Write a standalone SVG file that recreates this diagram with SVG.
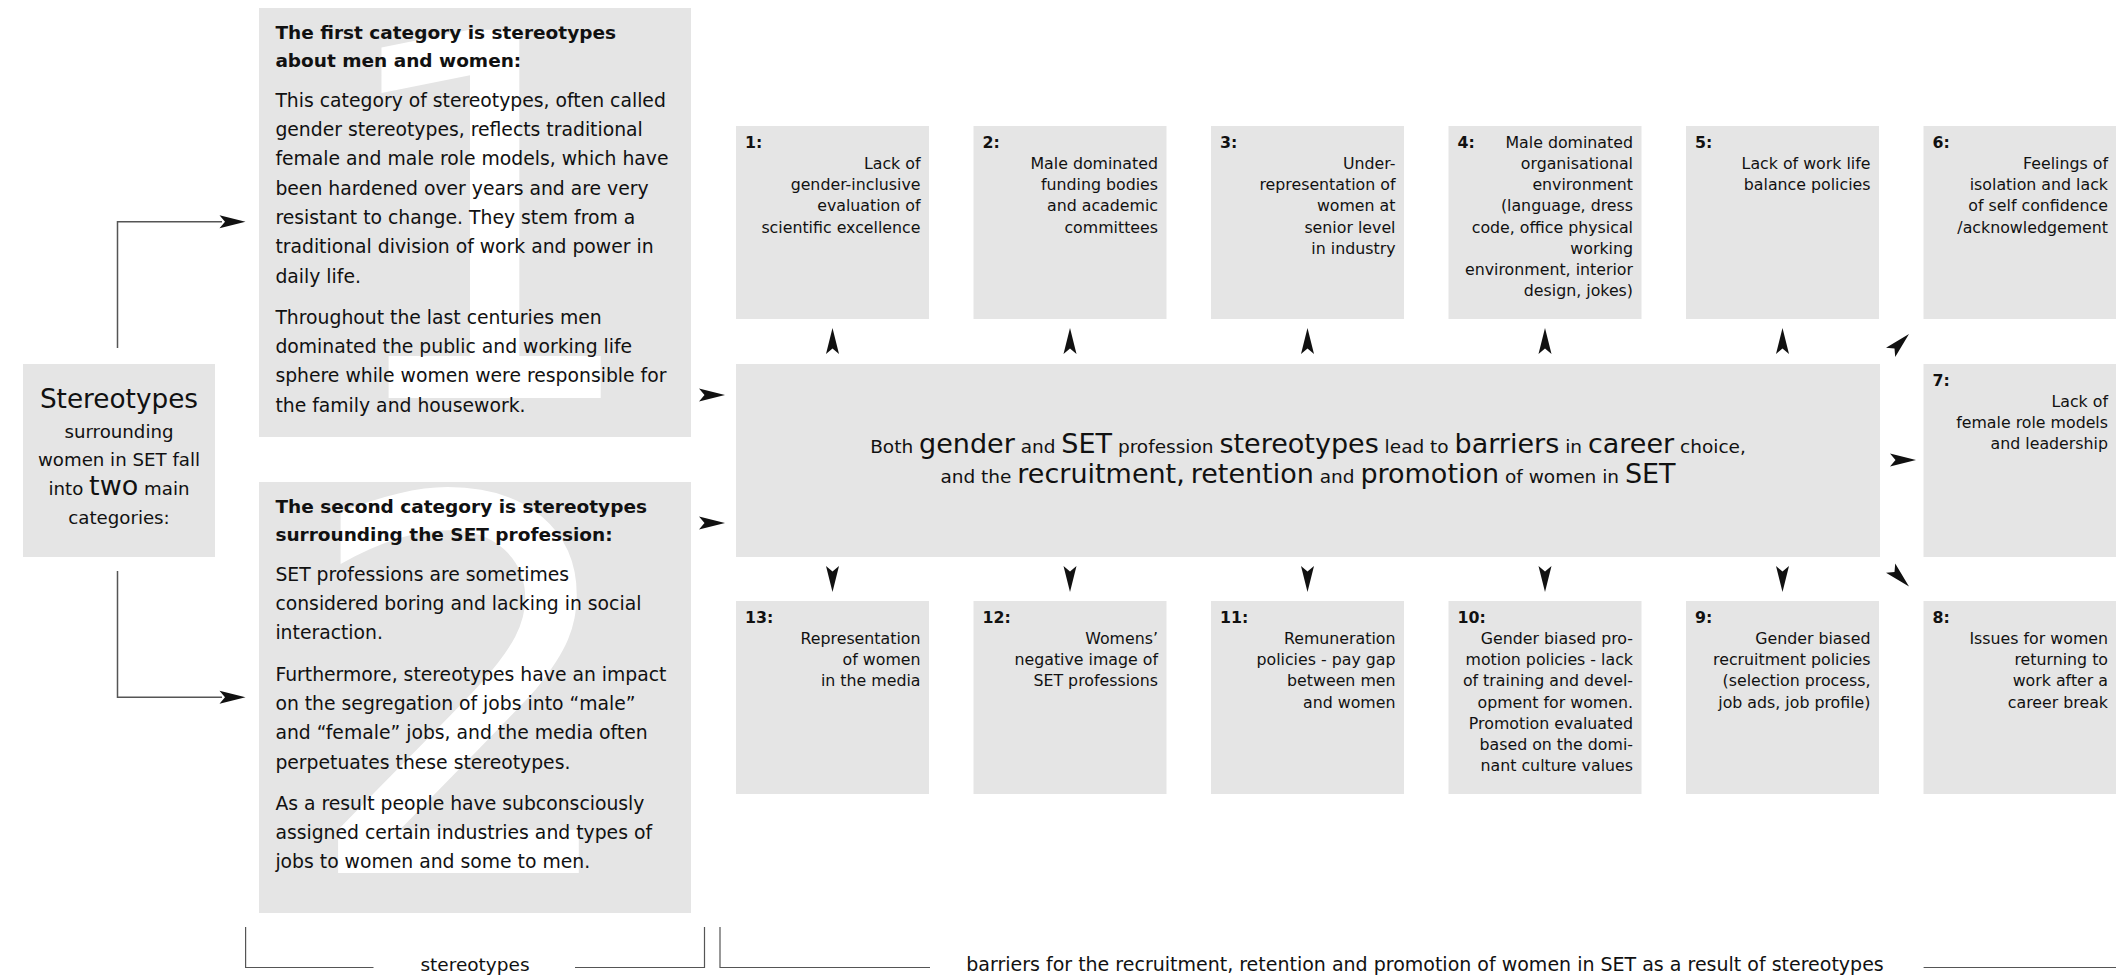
<svg xmlns="http://www.w3.org/2000/svg" xmlns:xlink="http://www.w3.org/1999/xlink" width="2116" height="978" viewBox="0 0 2116 978">
<style>
.box{fill:#e5e5e5}
.t{font-family:"DejaVu Sans",Verdana,sans-serif;fill:#111}
.sm{font-size:15.8px}
.lb{font-size:15.8px;font-weight:bold}
.r{text-anchor:end}
.m{text-anchor:middle}
.hd{font-size:18.5px;font-weight:bold}
.bd{font-size:18.8px}
.wm{font-family:"DejaVu Sans",Verdana,sans-serif;fill:#ffffff}
.cs{font-size:18.5px}
.cb{font-size:27px}
.ln{fill:none;stroke:#555;stroke-width:1.5}
.br{fill:none;stroke:#555;stroke-width:1.2}
.ah{fill:#111}
</style>
<defs>
<path id="ah" class="ah" d="M0,0 L-26,-6.5 L-20.5,0 L-26,6.5 Z"/>
</defs>
<rect width="2116" height="978" fill="#ffffff"/>

<g id="stereotypes">
<rect class="box" x="23" y="364" width="192" height="193"/>
<text class="t m" x="119" y="408" font-size="26.3">Stereotypes</text>
<text class="t m" x="119" y="437.5" font-size="18.2">surrounding</text>
<text class="t m" x="119" y="466" font-size="18.2">women in SET fall</text>
<text class="t m" x="119" y="495" font-size="18.2"><tspan>into </tspan><tspan font-size="27">two</tspan><tspan> main</tspan></text>
<text class="t m" x="119" y="524" font-size="18.2">categories:</text>
</g>

<g id="category1">
<rect class="box" x="259" y="8" width="432" height="429"/>
<text class="wm" x="326" y="398" font-size="505">1</text>
<text class="t hd" x="275.4" y="38.5">The first category is stereotypes</text>
<text class="t hd" x="275.4" y="67">about men and women:</text>
<text class="t bd" x="275.4" y="106.8">This category of stereotypes, often called</text>
<text class="t bd" x="275.4" y="136.1">gender stereotypes, reflects traditional</text>
<text class="t bd" x="275.4" y="165.4">female and male role models, which have</text>
<text class="t bd" x="275.4" y="194.7">been hardened over years and are very</text>
<text class="t bd" x="275.4" y="224">resistant to change. They stem from a</text>
<text class="t bd" x="275.4" y="253.3">traditional division of work and power in</text>
<text class="t bd" x="275.4" y="282.6">daily life.</text>
<text class="t bd" x="275.4" y="323.6">Throughout the last centuries men</text>
<text class="t bd" x="275.4" y="352.9">dominated the public and working life</text>
<text class="t bd" x="275.4" y="382.2">sphere while women were responsible for</text>
<text class="t bd" x="275.4" y="411.5">the family and housework.</text>
</g>

<g id="category2">
<rect class="box" x="259" y="482" width="432" height="431"/>
<text class="wm" x="300" y="873" font-size="520">2</text>
<text class="t hd" x="275.4" y="512.5">The second category is stereotypes</text>
<text class="t hd" x="275.4" y="541">surrounding the SET profession:</text>
<text class="t bd" x="275.4" y="580.8">SET professions are sometimes</text>
<text class="t bd" x="275.4" y="610.1">considered boring and lacking in social</text>
<text class="t bd" x="275.4" y="639.4">interaction.</text>
<text class="t bd" x="275.4" y="680.7">Furthermore, stereotypes have an impact</text>
<text class="t bd" x="275.4" y="710">on the segregation of jobs into “male”</text>
<text class="t bd" x="275.4" y="739.3">and “female” jobs, and the media often</text>
<text class="t bd" x="275.4" y="768.6">perpetuates these stereotypes.</text>
<text class="t bd" x="275.4" y="809.6">As a result people have subconsciously</text>
<text class="t bd" x="275.4" y="838.9">assigned certain industries and types of</text>
<text class="t bd" x="275.4" y="868.2">jobs to women and some to men.</text>
</g>

<g id="central">
<rect class="box" x="736" y="364" width="1144" height="193"/>
<text class="t m" x="1308" y="452.7"><tspan class="cs">Both </tspan><tspan class="cb">gender</tspan><tspan class="cs"> and </tspan><tspan class="cb">SET</tspan><tspan class="cs"> profession </tspan><tspan class="cb">stereotypes</tspan><tspan class="cs"> lead to </tspan><tspan class="cb">barriers</tspan><tspan class="cs"> in </tspan><tspan class="cb">career</tspan><tspan class="cs"> choice,</tspan></text>
<text class="t m" x="1308" y="483.3"><tspan class="cs">and the </tspan><tspan class="cb">recruitment,</tspan><tspan class="cs"> </tspan><tspan class="cb">retention</tspan><tspan class="cs"> and </tspan><tspan class="cb">promotion</tspan><tspan class="cs"> of women in </tspan><tspan class="cb">SET</tspan></text>
</g>

<g id="b1">
<rect class="box" x="736" y="126" width="193" height="193"/>
<text class="t lb" x="745" y="147.5">1:</text>
<text class="t sm r" x="920.5" y="168.8">Lack of</text>
<text class="t sm r" x="920.5" y="190">gender-inclusive</text>
<text class="t sm r" x="920.5" y="211.3">evaluation of</text>
<text class="t sm r" x="920.5" y="232.5">scientific excellence</text>
</g>
<g id="b2">
<rect class="box" x="973.5" y="126" width="193" height="193"/>
<text class="t lb" x="982.5" y="147.5">2:</text>
<text class="t sm r" x="1158" y="168.8">Male dominated</text>
<text class="t sm r" x="1158" y="190">funding bodies</text>
<text class="t sm r" x="1158" y="211.3">and academic</text>
<text class="t sm r" x="1158" y="232.5">committees</text>
</g>
<g id="b3">
<rect class="box" x="1211" y="126" width="193" height="193"/>
<text class="t lb" x="1220" y="147.5">3:</text>
<text class="t sm r" x="1395.5" y="168.8">Under-</text>
<text class="t sm r" x="1395.5" y="190">representation of</text>
<text class="t sm r" x="1395.5" y="211.3">women at</text>
<text class="t sm r" x="1395.5" y="232.5">senior level</text>
<text class="t sm r" x="1395.5" y="253.8">in industry</text>
</g>
<g id="b4">
<rect class="box" x="1448.5" y="126" width="193" height="193"/>
<text class="t lb" x="1457.5" y="147.5">4:</text>
<text class="t sm r" x="1633" y="147.5">Male dominated</text>
<text class="t sm r" x="1633" y="168.8">organisational</text>
<text class="t sm r" x="1633" y="190">environment</text>
<text class="t sm r" x="1633" y="211.3">(language, dress</text>
<text class="t sm r" x="1633" y="232.5">code, office physical</text>
<text class="t sm r" x="1633" y="253.8">working</text>
<text class="t sm r" x="1633" y="275">environment, interior</text>
<text class="t sm r" x="1633" y="296.3">design, jokes)</text>
</g>
<g id="b5">
<rect class="box" x="1686" y="126" width="193" height="193"/>
<text class="t lb" x="1695" y="147.5">5:</text>
<text class="t sm r" x="1870.5" y="168.8">Lack of work life</text>
<text class="t sm r" x="1870.5" y="190">balance policies</text>
</g>
<g id="b6">
<rect class="box" x="1923.5" y="126" width="193" height="193"/>
<text class="t lb" x="1932.5" y="147.5">6:</text>
<text class="t sm r" x="2108" y="168.8">Feelings of</text>
<text class="t sm r" x="2108" y="190">isolation and lack</text>
<text class="t sm r" x="2108" y="211.3">of self confidence</text>
<text class="t sm r" x="2108" y="232.5">/acknowledgement</text>
</g>
<g id="b7">
<rect class="box" x="1923.5" y="364" width="193" height="193"/>
<text class="t lb" x="1932.5" y="385.5">7:</text>
<text class="t sm r" x="2108" y="406.8">Lack of</text>
<text class="t sm r" x="2108" y="428">female role models</text>
<text class="t sm r" x="2108" y="449.3">and leadership</text>
</g>
<g id="b8">
<rect class="box" x="1923.5" y="601" width="193" height="193"/>
<text class="t lb" x="1932.5" y="622.5">8:</text>
<text class="t sm r" x="2108" y="643.8">Issues for women</text>
<text class="t sm r" x="2108" y="665">returning to</text>
<text class="t sm r" x="2108" y="686.3">work after a</text>
<text class="t sm r" x="2108" y="707.5">career break</text>
</g>
<g id="b9">
<rect class="box" x="1686" y="601" width="193" height="193"/>
<text class="t lb" x="1695" y="622.5">9:</text>
<text class="t sm r" x="1870.5" y="643.8">Gender biased</text>
<text class="t sm r" x="1870.5" y="665">recruitment policies</text>
<text class="t sm r" x="1870.5" y="686.3">(selection process,</text>
<text class="t sm r" x="1870.5" y="707.5">job ads, job profile)</text>
</g>
<g id="b10">
<rect class="box" x="1448.5" y="601" width="193" height="193"/>
<text class="t lb" x="1457.5" y="622.5">10:</text>
<text class="t sm r" x="1633" y="643.8">Gender biased pro-</text>
<text class="t sm r" x="1633" y="665">motion policies - lack</text>
<text class="t sm r" x="1633" y="686.3">of training and devel-</text>
<text class="t sm r" x="1633" y="707.5">opment for women.</text>
<text class="t sm r" x="1633" y="728.8">Promotion evaluated</text>
<text class="t sm r" x="1633" y="750">based on the domi-</text>
<text class="t sm r" x="1633" y="771.3">nant culture values</text>
</g>
<g id="b11">
<rect class="box" x="1211" y="601" width="193" height="193"/>
<text class="t lb" x="1220" y="622.5">11:</text>
<text class="t sm r" x="1395.5" y="643.8">Remuneration</text>
<text class="t sm r" x="1395.5" y="665">policies - pay gap</text>
<text class="t sm r" x="1395.5" y="686.3">between men</text>
<text class="t sm r" x="1395.5" y="707.5">and women</text>
</g>
<g id="b12">
<rect class="box" x="973.5" y="601" width="193" height="193"/>
<text class="t lb" x="982.5" y="622.5">12:</text>
<text class="t sm r" x="1158" y="643.8">Womens’</text>
<text class="t sm r" x="1158" y="665">negative image of</text>
<text class="t sm r" x="1158" y="686.3">SET professions</text>
</g>
<g id="b13">
<rect class="box" x="736" y="601" width="193" height="193"/>
<text class="t lb" x="745" y="622.5">13:</text>
<text class="t sm r" x="920.5" y="643.8">Representation</text>
<text class="t sm r" x="920.5" y="665">of women</text>
<text class="t sm r" x="920.5" y="686.3">in the media</text>
</g>

<g id="connectors">
<path class="ln" d="M117.5,348 V221.7 H222"/>
<path class="ln" d="M117.5,571 V697.3 H222"/>
<use xlink:href="#ah" transform="translate(245.5,221.7)"/>
<use xlink:href="#ah" transform="translate(245.5,697.3)"/>
<use xlink:href="#ah" transform="translate(725,395)"/>
<use xlink:href="#ah" transform="translate(725,523)"/>
<use xlink:href="#ah" transform="translate(832.5,328) rotate(-90)"/>
<use xlink:href="#ah" transform="translate(1070,328) rotate(-90)"/>
<use xlink:href="#ah" transform="translate(1307.5,328) rotate(-90)"/>
<use xlink:href="#ah" transform="translate(1545,328) rotate(-90)"/>
<use xlink:href="#ah" transform="translate(1782.5,328) rotate(-90)"/>
<use xlink:href="#ah" transform="translate(1909,334) rotate(-45)"/>
<use xlink:href="#ah" transform="translate(1916,460)"/>
<use xlink:href="#ah" transform="translate(1909,586.5) rotate(45)"/>
<use xlink:href="#ah" transform="translate(832.5,592) rotate(90)"/>
<use xlink:href="#ah" transform="translate(1070,592) rotate(90)"/>
<use xlink:href="#ah" transform="translate(1307.5,592) rotate(90)"/>
<use xlink:href="#ah" transform="translate(1545,592) rotate(90)"/>
<use xlink:href="#ah" transform="translate(1782.5,592) rotate(90)"/>
</g>

<g id="brackets">
<path class="br" d="M245.6,927 V967.5 H373.5"/>
<path class="br" d="M575,967.5 H704.5 V927"/>
<path class="br" d="M720,927 V967.5 H930"/>
<path class="br" d="M1923.6,967.5 H2116"/>
<text class="t m" x="475" y="971" font-size="18.5">stereotypes</text>
<text class="t m" x="1425" y="971" font-size="19">barriers for the recruitment, retention and promotion of women in SET as a result of stereotypes</text>
</g>
</svg>
